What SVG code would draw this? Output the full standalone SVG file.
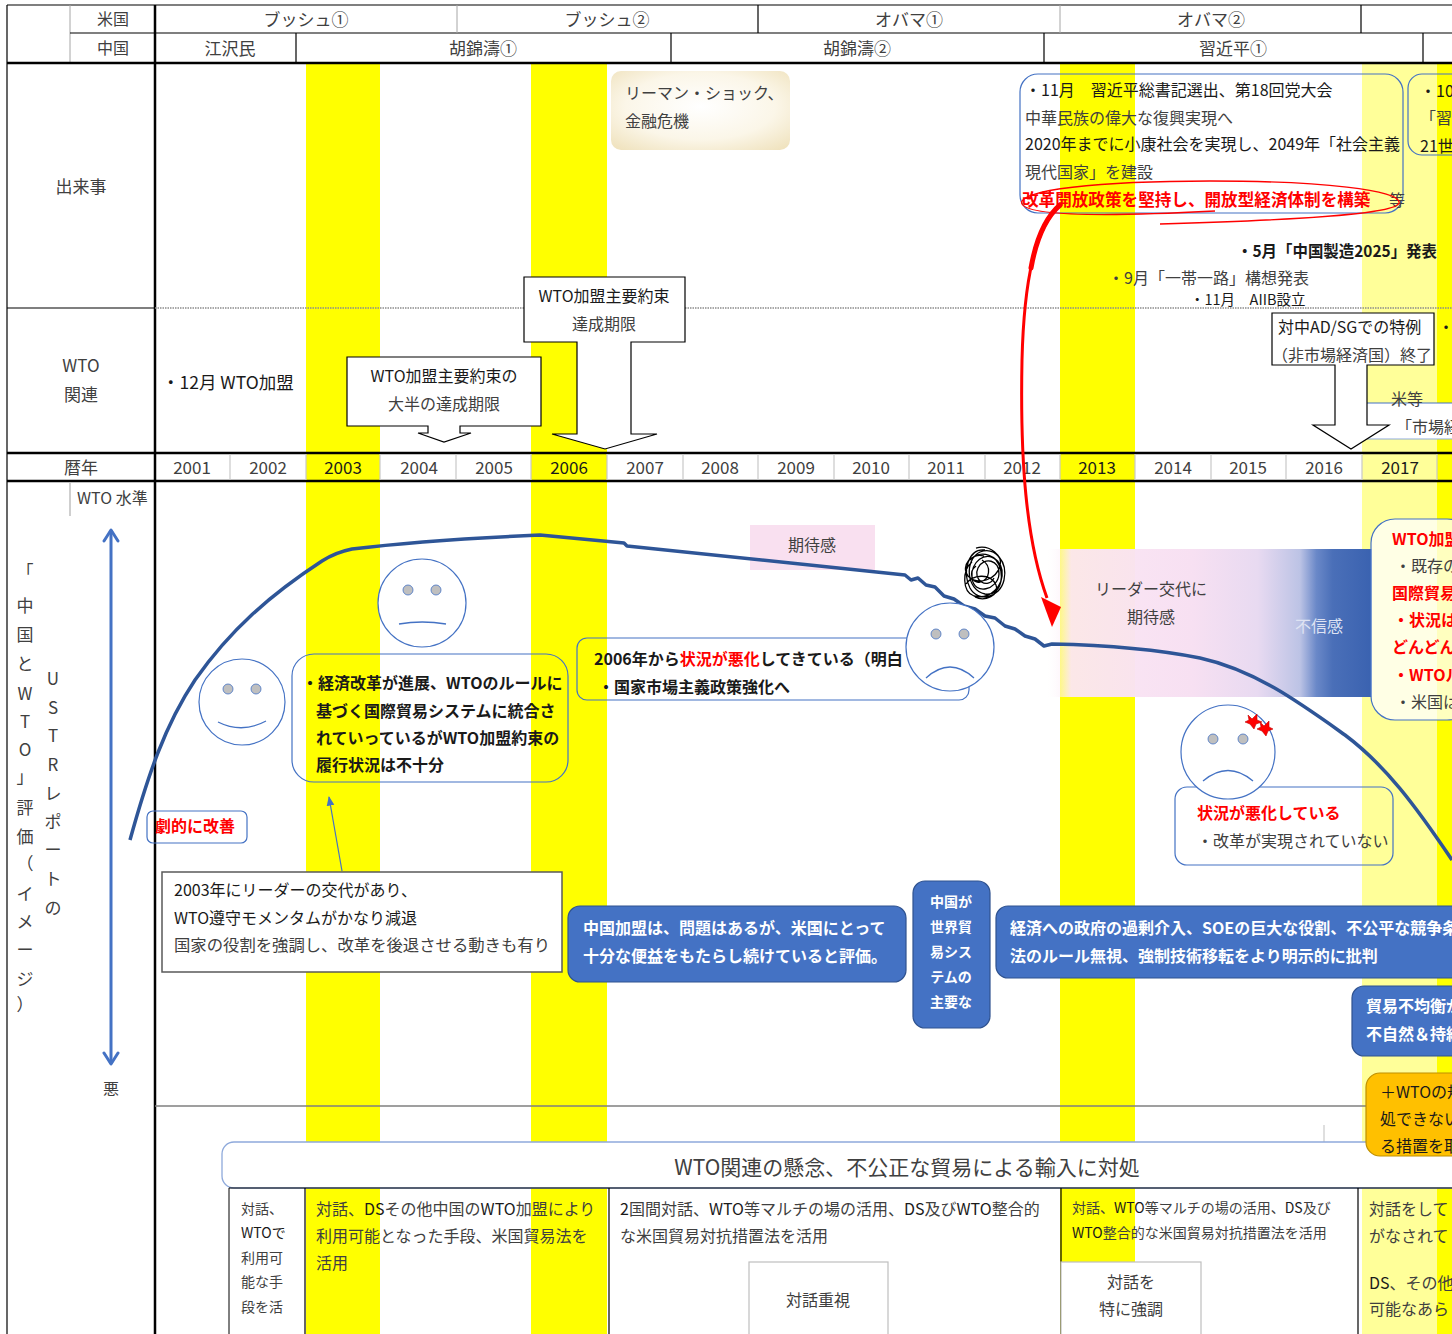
<svg xmlns="http://www.w3.org/2000/svg" width="1452" height="1334" viewBox="0 0 1452 1334">
<defs>
<style>
text{font-family:"Noto Sans CJK JP","Noto Sans",sans-serif;dominant-baseline:central;fill:#404040;}
.f14{font-size:14px}.f15{font-size:15px}.f16{font-size:16px}.f17{font-size:17px}.f18{font-size:17.5px}.f21{font-size:21px}
.b{font-weight:bold}
.k{fill:#1a1a1a}
.r{fill:#ff0000}
.w{fill:#ffffff}
.m{text-anchor:middle}
.yel{fill:#ffff00}
.lyel{fill:#ffff99}
.ln{stroke:#000;stroke-width:1.2;fill:none}
.thick{stroke:#000;stroke-width:2.5;fill:none}
.gl{stroke:#c8c8c8;stroke-width:1.2}
.face{fill:#fff;stroke:#4472c4;stroke-width:1.2}
.eye{fill:#bfbfbf;stroke:#4472c4;stroke-width:0.8}
.mouth{fill:none;stroke:#4472c4;stroke-width:1.3}
.rbox{fill:none;stroke:#4472c4;stroke-width:1.2}
.bbox{fill:#4472c4;stroke:#2f528f;stroke-width:1.2}
.call{fill:#fff;stroke:#000;stroke-width:1.2}
</style>
<linearGradient id="band" x1="0" x2="1" y1="0" y2="0">
<stop offset="0" stop-color="#ffffff" stop-opacity="0"/>
<stop offset="0.08" stop-color="#fbe6f4" stop-opacity="0.95"/>
<stop offset="0.45" stop-color="#f7e0f2"/>
<stop offset="0.65" stop-color="#e8daf1"/>
<stop offset="0.78" stop-color="#bcc3e5"/>
<stop offset="0.83" stop-color="#6a88c8"/>
<stop offset="0.88" stop-color="#4a6fb8"/>
<stop offset="1" stop-color="#3a62b0"/>
</linearGradient>
<radialGradient id="beige" cx="0.5" cy="0.45" r="0.7">
<stop offset="0" stop-color="#ffffff"/>
<stop offset="0.6" stop-color="#fbf6e8"/>
<stop offset="1" stop-color="#f0e3bf"/>
</radialGradient>
<marker id="thinHead" viewBox="0 0 10 10" refX="9" refY="5" markerWidth="8" markerHeight="8" orient="auto">
<path d="M0,1 L10,5 L0,9 Z" fill="#4472c4"/>
</marker>
</defs>

<rect width="1452" height="1334" fill="#fff"/>

<!-- highlighted year columns -->
<g id="year-highlights">
<rect class="yel" x="306" y="63" width="74" height="1271"/>
<rect class="yel" x="531" y="63" width="76" height="1271"/>
<rect class="yel" x="1060" y="63" width="75" height="1271"/>
<rect class="lyel" x="1362" y="63" width="75" height="1271"/>
<rect class="yel" x="1437" y="63" width="15" height="1271"/>
</g>

<!-- table frame -->
<g id="frame">
<line class="ln" x1="7" y1="5" x2="1452" y2="5"/>
<line class="ln" x1="7" y1="5" x2="7" y2="1334"/>
<line x1="70" y1="5" x2="70" y2="63" stroke="#a6a6a6" stroke-width="1"/>
<line class="ln" x1="70" y1="33" x2="1452" y2="33"/>
<line class="thick" x1="155" y1="5" x2="155" y2="1334"/>
<line class="thick" x1="7" y1="63" x2="1452" y2="63"/>
<line x1="457" y1="5" x2="457" y2="33" stroke="#a6a6a6" stroke-width="1"/>
<line class="ln" x1="758" y1="5" x2="758" y2="33"/>
<line x1="1060" y1="5" x2="1060" y2="33" stroke="#a6a6a6" stroke-width="1"/>
<line class="ln" x1="1361" y1="5" x2="1361" y2="33"/>
<line class="ln" x1="296" y1="33" x2="296" y2="63"/>
<line class="ln" x1="671" y1="33" x2="671" y2="63"/>
<line class="ln" x1="1044" y1="33" x2="1044" y2="63"/>
<line class="ln" x1="1423" y1="33" x2="1423" y2="63"/>
<line class="ln" x1="7" y1="308" x2="155" y2="308"/>
<line x1="155" y1="308" x2="1452" y2="308" stroke="#8c8c8c" stroke-width="1.5" stroke-dasharray="1.5 1"/>
<line class="thick" x1="7" y1="453" x2="1452" y2="453"/>
<line class="thick" x1="7" y1="481" x2="1452" y2="481"/>
<g class="gl">
<line x1="230" y1="454" x2="230" y2="480"/><line x1="306" y1="454" x2="306" y2="480"/>
<line x1="380" y1="454" x2="380" y2="480"/><line x1="456" y1="454" x2="456" y2="480"/>
<line x1="531" y1="454" x2="531" y2="480"/><line x1="607" y1="454" x2="607" y2="480"/>
<line x1="683" y1="454" x2="683" y2="480"/><line x1="758" y1="454" x2="758" y2="480"/>
<line x1="834" y1="454" x2="834" y2="480"/><line x1="909" y1="454" x2="909" y2="480"/>
<line x1="985" y1="454" x2="985" y2="480"/><line x1="1060" y1="454" x2="1060" y2="480"/>
<line x1="1135" y1="454" x2="1135" y2="480"/><line x1="1211" y1="454" x2="1211" y2="480"/>
<line x1="1286" y1="454" x2="1286" y2="480"/><line x1="1362" y1="454" x2="1362" y2="480"/>
<line x1="1437" y1="454" x2="1437" y2="480"/>
</g>
<line x1="155" y1="1106" x2="1366" y2="1106" stroke="#7f7f7f" stroke-width="1.5"/>
<line x1="1324" y1="1125" x2="1324" y2="1142" stroke="#bfbfbf" stroke-width="1"/>
</g>

<!-- header labels -->
<g id="header">
<text class="f16 m" x="113" y="18">米国</text>
<text class="f16 m" x="113" y="47">中国</text>
<text class="f17 m" x="306" y="18">ブッシュ①</text>
<text class="f17 m" x="607" y="18">ブッシュ②</text>
<text class="f17 m" x="909" y="18">オバマ①</text>
<text class="f17 m" x="1211" y="18">オバマ②</text>
<text class="f17 m" x="230" y="47">江沢民</text>
<text class="f17 m" x="483" y="47">胡錦濤①</text>
<text class="f17 m" x="857" y="47">胡錦濤②</text>
<text class="f17 m" x="1233" y="47">習近平①</text>
<text class="f17 m" x="81" y="185">出来事</text>
<text class="f17 m" x="81" y="364">WTO</text>
<text class="f17 m" x="81" y="393">関連</text>
<text class="f17 m" x="81" y="466">暦年</text>
</g>

<g id="years" class="f17">
<text class="m" x="192" y="466">2001</text><text class="m" x="268" y="466">2002</text>
<text class="m k" x="343" y="466">2003</text><text class="m" x="419" y="466">2004</text>
<text class="m" x="494" y="466">2005</text><text class="m k" x="569" y="466">2006</text>
<text class="m" x="645" y="466">2007</text><text class="m" x="720" y="466">2008</text>
<text class="m" x="796" y="466">2009</text><text class="m" x="871" y="466">2010</text>
<text class="m" x="946" y="466">2011</text><text class="m" x="1022" y="466">2012</text>
<text class="m k" x="1097" y="466">2013</text><text class="m" x="1173" y="466">2014</text>
<text class="m" x="1248" y="466">2015</text><text class="m" x="1324" y="466">2016</text>
<text class="m k" x="1400" y="466">2017</text>
</g>

<!-- events row -->
<g id="lehman">
<rect x="611" y="71" width="179" height="79" rx="10" fill="url(#beige)"/>
<text class="f16" x="625" y="92">リーマン・ショック、</text>
<text class="f16" x="625" y="120">金融危機</text>
</g>

<g id="party-congress">
<rect class="rbox" x="1020" y="74" width="383" height="139" rx="18"/>
<text class="f16 k" x="1025" y="89">・11月　習近平総書記選出、第18回党大会</text>
<text class="f16" x="1025" y="117">中華民族の偉大な復興実現へ</text>
<text class="f16 k" x="1025" y="143">2020年までに小康社会を実現し、2049年「社会主義</text>
<text class="f16" x="1025" y="171">現代国家」を建設</text>
<text class="b r" style="font-size:16.6px" x="1022" y="199">改革開放政策を堅持し、開放型経済体制を構築</text>
<text class="f16" x="1389" y="199">等</text>
<path d="M1215,211 C1120,216 1030,217 1022,204 C1016,190 1100,181 1210,181 C1320,181 1402,190 1399,203 C1396,214 1300,220 1160,224" fill="none" stroke="#ff0000" stroke-width="1.3"/>
</g>

<g id="party-congress-19">
<rect class="rbox" x="1408" y="74" width="70" height="81" rx="14"/>
<text class="f16 k" x="1420" y="90">・10月</text>
<text class="f16" x="1420" y="117">「習近</text>
<text class="f16 k" x="1420" y="145">21世紀</text>
</g>

<g id="events-misc">
<text class="f16 b k" x="1237" y="250" textLength="200" lengthAdjust="spacingAndGlyphs">・5月「中国製造2025」発表</text>
<text class="f16" x="1108" y="277">・9月「一帯一路」構想発表</text>
<text class="k" style="font-size:14.5px" x="1190" y="298">・11月　AIIB設立</text>
</g>

<!-- WTO row -->
<g id="wto-accession">
<text class="f18 k" x="162" y="381">・12月 WTO加盟</text>
</g>

<g id="deadline-most">
<path class="call" d="M347,357 H541 V426 H460 V433 H471 L444,442 L418,433 H428 V426 H347 Z"/>
<text class="f16 k m" x="444" y="375">WTO加盟主要約束の</text>
<text class="f16 m" x="444" y="403">大半の達成期限</text>
</g>

<g id="deadline-main">
<path class="call" d="M524,277 H685 V342 H631 V434 H657 L605,449 L552,434 H577 V342 H524 Z"/>
<text class="f16 k m" x="604" y="295">WTO加盟主要約束</text>
<text class="f16 m" x="604" y="323">達成期限</text>
</g>

<g id="market-economy">
<rect x="1367" y="403" width="90" height="36" fill="#fff"/>
<line x1="1367" y1="403" x2="1452" y2="403" stroke="#4472c4" stroke-width="1.2"/>
<line x1="1367" y1="439" x2="1452" y2="439" stroke="#8ea9db" stroke-width="1.2"/>
<text class="f16" x="1391" y="398">米等</text>
<text class="f16" x="1396" y="426">「市場経済</text>
</g>

<g id="ad-sg">
<path class="call" d="M1272,313 H1434 V365 H1367 V425 H1389 L1351,449 L1313,425 H1335 V365 H1272 Z"/>
<text class="f16 k" x="1278" y="326">対中AD/SGでの特例</text>
<text class="f16" x="1272" y="354">（非市場経済国）終了</text>
<text class="f16 k" x="1438" y="326">・</text>
</g>

<!-- evaluation axis -->
<g id="axis">
<line x1="70" y1="483" x2="70" y2="516" stroke="#bfbfbf" stroke-width="1.5"/>
<text class="f16" x="77" y="497">WTO 水準</text>
<line x1="111" y1="530" x2="111" y2="1064" stroke="#4472c4" stroke-width="3"/>
<path d="M104,541 L111,530 L118,541 M104,1053 L111,1064 L118,1053" fill="none" stroke="#4472c4" stroke-width="3" stroke-linecap="round" stroke-linejoin="round"/>
<text class="f16 m" x="111" y="1088">悪</text>
<g class="f17 m">
<text x="25" y="570">「</text><text x="25" y="604">中</text><text x="25" y="633">国</text>
<text x="25" y="662">と</text><text x="25" y="692">W</text><text x="25" y="720">T</text>
<text x="25" y="748">O</text><text x="25" y="775">」</text><text x="25" y="806">評</text>
<text x="25" y="835">価</text><text x="25" y="862">（</text><text x="25" y="892">イ</text>
<text x="25" y="920">メ</text><text x="25" y="948">ー</text><text x="25" y="977">ジ</text>
<text x="25" y="1003">）</text>
<text x="53" y="677">U</text><text x="53" y="706">S</text><text x="53" y="734">T</text>
<text x="53" y="763">R</text><text x="53" y="792">レ</text><text x="53" y="820">ポ</text>
<text x="53" y="848">ー</text><text x="53" y="877">ト</text><text x="53" y="906">の</text>
</g>
</g>

<!-- expectation band around the 2013 leadership change -->
<g id="leader-change">
<rect x="1045" y="549" width="327" height="148" fill="url(#band)"/>
<text class="f16 m" x="1151" y="588">リーダー交代に</text>
<text class="f16 m" x="1151" y="616">期待感</text>
<text class="f16 m" x="1319" y="625" style="fill:#dfe3f3">不信感</text>
</g>

<g id="expectation">
<rect x="750" y="525" width="125" height="45" fill="#f9e0f0"/>
<text class="f16 m" x="812" y="544">期待感</text>
</g>

<!-- connectors -->
<g id="connectors">
<path d="M130,840 C148,775 165,725 195,680 C230,630 270,595 322,561 C333,554 342,551 352,549 C400,543 470,538 540,535 L624,543 L627,546 L905,575 L911,580 L918,578 L926,585 L935,587 L944,596 L954,599 L964,606 L975,609 L985,616 L995,618 L1005,626 L1015,629 L1025,636 L1035,639 L1044,646 L1052,644 C1100,645 1150,648 1200,658 C1255,670 1300,703 1345,735 C1385,765 1415,805 1452,860" fill="none" stroke="#2e5597" stroke-width="3.5" stroke-linejoin="round"/>
<path d="M1060,205 C1035,228 1024,280 1022,360 C1020,460 1026,540 1047,598" fill="none" stroke="#ff0000" stroke-width="3"/>
<path d="M1060,205 C1045,218 1036,240 1031,268" fill="none" stroke="#ff0000" stroke-width="5" stroke-linecap="round"/>
<path d="M1041,597 L1061,607 L1052,627 Z" fill="#ff0000"/>
<line x1="342" y1="871" x2="329" y2="797" stroke="#4472c4" stroke-width="1.2" marker-end="url(#thinHead)"/>
</g>

<!-- tangled scribble near the 2011 dip -->
<g id="scribble">
<path d="M985,550 C968,548 962,572 970,588 C978,603 1000,598 1004,580 C1008,562 995,546 980,552 C964,560 966,590 985,594 C1002,597 1006,572 996,560 C986,550 970,562 972,578 C974,596 998,590 999,574 C1000,560 984,556 978,568 C972,580 988,590 994,578 M970,560 C980,548 1000,556 1002,570 C1004,586 990,600 974,596 C962,592 962,570 972,562 M976,548 C990,544 1003,556 1000,566 C996,580 978,586 968,576 C960,566 972,552 984,556 M966,584 C972,575 990,572 996,585 C1000,595 985,602 975,597 M982,560 C992,566 990,580 980,582 C972,584 968,572 976,566" fill="none" stroke="#000" stroke-width="1.3"/>
</g>

<!-- faces -->
<g id="face-smile">
<circle class="face" cx="242" cy="702" r="43"/>
<circle class="eye" cx="228" cy="689" r="5"/><circle class="eye" cx="256" cy="689" r="5"/>
<path class="mouth" d="M218,722 Q242,734 266,721"/>
</g>
<g id="face-neutral">
<circle class="face" cx="422" cy="603" r="44"/>
<circle class="eye" cx="408" cy="590" r="5"/><circle class="eye" cx="436" cy="590" r="5"/>
<path class="mouth" d="M399,624 Q422,620 446,624"/>
</g>

<g id="improve">
<rect class="rbox" x="147" y="811" width="100" height="32" rx="6"/>
<text class="f16 b r" x="155" y="825">劇的に改善</text>
</g>

<g id="reform-progress">
<rect class="rbox" x="292" y="654" width="276" height="128" rx="22"/>
<text class="f16 b k" x="302" y="682">・経済改革が進展、WTOのルールに</text>
<text class="f16 b k" x="316" y="710">基づく国際貿易システムに統合さ</text>
<text class="f16 b k" x="316" y="737">れていっているがWTO加盟約束の</text>
<text class="f16 b k" x="316" y="764">履行状況は不十分</text>
</g>

<g id="leader-2003">
<rect x="162" y="872" width="400" height="100" fill="#fff" stroke="#595959" stroke-width="1.5"/>
<text class="f16 k" x="174" y="889">2003年にリーダーの交代があり、</text>
<text class="f16 k" x="174" y="917">WTO遵守モメンタムがかなり減退</text>
<text class="f16" x="174" y="944" textLength="376" lengthAdjust="spacingAndGlyphs">国家の役割を強調し、改革を後退させる動きも有り</text>
</g>

<g id="worsening-2006">
<rect class="rbox" x="577" y="638" width="392" height="62" rx="10"/>
<text class="f16 b k" x="594" y="658">2006年から<tspan class="r">状況が悪化</tspan>してきている（明白</text>
<text class="f16 b k" x="598" y="686">・国家市場主義政策強化へ</text>
</g>

<g id="face-sad">
<circle class="face" cx="950" cy="647" r="44"/>
<circle class="eye" cx="936" cy="634" r="5"/><circle class="eye" cx="964" cy="634" r="5"/>
<path class="mouth" d="M926,678 Q950,656 974,678"/>
</g>

<g id="worsening-now">
<rect class="rbox" x="1175" y="787" width="218" height="78" rx="12"/>
<text class="f16 b r" x="1197" y="812">状況が悪化している</text>
<text class="f16" x="1197" y="840">・改革が実現されていない</text>
</g>

<g id="face-sad-2">
<circle class="face" cx="1228" cy="752" r="47"/>
<circle class="eye" cx="1213" cy="739" r="5"/><circle class="eye" cx="1243" cy="739" r="5"/>
<path class="mouth" d="M1203,781 Q1228,760 1253,781"/>
<path d="M1248,715 L1252,719 L1257,714 L1257,720 L1262,722 L1256,724 L1254,729 L1250,724 L1245,722 L1249,720 Z" fill="#ff0000" stroke="#c00000" stroke-width="0.6"/>
<path d="M1260,722 L1264,726 L1269,721 L1269,727 L1273,729 L1268,731 L1266,736 L1262,731 L1257,729 L1261,727 Z" fill="#ff0000" stroke="#c00000" stroke-width="0.6"/>
</g>

<g id="wto-accession-review">
<rect x="1371" y="519" width="100" height="201" rx="24" fill="#ffffff" fill-opacity="0.75" stroke="#4472c4" stroke-width="1.2"/>
<text class="f16 b r" x="1392" y="538">WTO加盟の</text>
<text class="f16" x="1395" y="565">・既存の</text>
<text class="f16 b r" x="1392" y="592">国際貿易</text>
<text class="f16 b r" x="1393" y="619">・状況は</text>
<text class="f16 b r" x="1392" y="646">どんどん</text>
<text class="f16 b r" x="1393" y="674">・WTOル</text>
<text class="f16" x="1395" y="701">・米国は</text>
</g>

<!-- USTR assessments -->
<g id="benefit">
<rect class="bbox" x="568" y="906" width="338" height="76" rx="12"/>
<text class="f16 b w" x="583" y="927">中国加盟は、問題はあるが、米国にとって</text>
<text class="f16 b w" x="583" y="955">十分な便益をもたらし続けていると評価。</text>
</g>

<g id="major-player">
<rect class="bbox" x="913" y="881" width="77" height="147" rx="12"/>
<text class="f14 b w m" x="951" y="901">中国が</text>
<text class="f14 b w m" x="951" y="926">世界貿</text>
<text class="f14 b w m" x="951" y="951">易シス</text>
<text class="f14 b w m" x="951" y="976">テムの</text>
<text class="f14 b w m" x="951" y="1001">主要な</text>
</g>

<g id="criticism">
<rect class="bbox" x="996" y="906" width="480" height="72" rx="12"/>
<text class="f16 b w" x="1010" y="927">経済への政府の過剰介入、SOEの巨大な役割、不公平な競争条件</text>
<text class="f16 b w" x="1010" y="955">法のルール無視、強制技術移転をより明示的に批判</text>
</g>

<g id="imbalance">
<rect class="bbox" x="1352" y="986" width="120" height="70" rx="12"/>
<text class="f16 b w" x="1366" y="1005">貿易不均衡が</text>
<text class="f16 b w" x="1366" y="1033">不自然＆持続</text>
</g>

<!-- responses -->
<g id="response-banner">
<rect x="222" y="1142" width="1260" height="46" rx="12" fill="#fff" stroke="#8ea9db" stroke-width="1.3"/>
<text class="f21 m" x="907" y="1166">WTO関連の懸念、不公正な貿易による輸入に対処</text>
</g>

<g id="measures">
<rect x="1366" y="1073" width="110" height="83" rx="14" fill="#ffc000" stroke="#bf9000" stroke-width="1.2"/>
<text class="f16 k" x="1380" y="1091">＋WTOの規</text>
<text class="f16 k" x="1380" y="1118">処できない</text>
<text class="f16 k" x="1380" y="1145">る措置を取</text>
</g>

<g id="response-table">
<line class="ln" x1="229" y1="1188" x2="1452" y2="1188" stroke-width="1.5"/>
<line x1="229" y1="1188" x2="229" y2="1334" stroke="#000" stroke-width="1"/>
<line class="ln" x1="305" y1="1188" x2="305" y2="1334" stroke-width="1.5"/>
<line class="ln" x1="609" y1="1188" x2="609" y2="1334" stroke-width="1.5"/>
<line class="ln" x1="1061" y1="1188" x2="1061" y2="1334" stroke-width="2"/>
<line class="ln" x1="1358" y1="1188" x2="1358" y2="1334" stroke-width="2"/>
<g class="f14">
<text x="241" y="1208">対話、</text>
<text class="k" x="241" y="1232">WTOで</text>
<text x="241" y="1257">利用可</text>
<text x="241" y="1281">能な手</text>
<text x="241" y="1306">段を活</text>
</g>
<text class="f16" x="316" y="1208">対話、<tspan class="k">DS</tspan>その他中国の<tspan class="k">WTO</tspan>加盟により</text>
<text class="f16" x="316" y="1235">利用可能となった手段、米国貿易法を</text>
<text class="f16" x="316" y="1262">活用</text>
<text class="f16" x="620" y="1208"><tspan class="k">2</tspan>国間対話、<tspan class="k">WTO</tspan>等マルチの場の活用、<tspan class="k">DS</tspan>及び<tspan class="k">WTO</tspan>整合的</text>
<text class="f16" x="620" y="1235">な米国貿易対抗措置法を活用</text>
<text class="f14" x="1072" y="1207">対話、<tspan class="k">WTO</tspan>等マルチの場の活用、<tspan class="k">DS</tspan>及び</text>
<text class="f14" x="1072" y="1232"><tspan class="k">WTO</tspan>整合的な米国貿易対抗措置法を活用</text>
<text class="f16" x="1369" y="1208">対話をして</text>
<text class="f16" x="1369" y="1235">がなされて</text>
<text class="f16" x="1369" y="1282"><tspan class="k">DS</tspan>、その他</text>
<text class="f16" x="1369" y="1308">可能なあら</text>
</g>

<g id="dialogue">
<rect x="749" y="1262" width="139" height="80" fill="#fff" stroke="#bfbfbf" stroke-width="1.2"/>
<text class="f16 m" x="818" y="1299">対話重視</text>
</g>

<g id="dialogue-emphasis">
<rect x="1061" y="1262" width="140" height="80" fill="#fff" stroke="#bfbfbf" stroke-width="1.2"/>
<text class="f16 m" x="1131" y="1281">対話を</text>
<text class="f16 m" x="1131" y="1308">特に強調</text>
</g>
</svg>
